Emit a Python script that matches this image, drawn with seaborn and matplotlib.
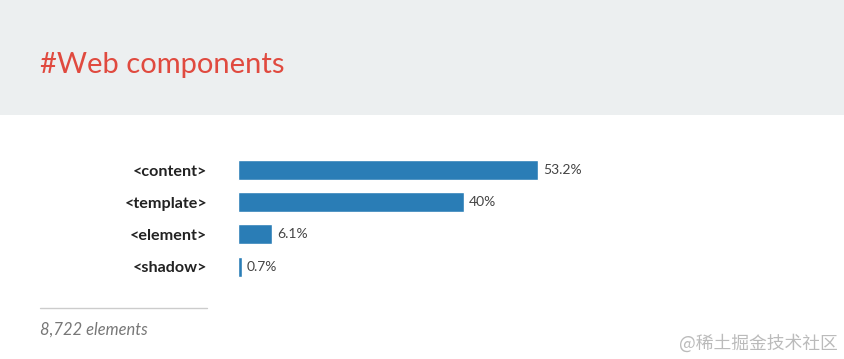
import matplotlib
matplotlib.use("Agg")
import matplotlib.pyplot as plt
import seaborn as sns
from matplotlib.patches import Rectangle
from matplotlib.lines import Line2D

# ==========================
# DATA
# ==========================

tags = ["<content>", "<template>", "<element>", "<shadow>"]
shares = [53.2, 40, 6.1, 0.7]
share_labels = ["53.2%", "40%", "6.1%", "0.7%"]
total_note = "8,722 elements"
title = "#Web components"
watermark = "@稀土掘金技术社区"

# ==========================
# FIGURE
# ==========================

sns.set_style("white")
plt.rcParams["font.family"] = ["Lato", "DejaVu Sans"]

W, H = 844, 359
fig = plt.figure(figsize=(W / 100, H / 100), dpi=100)
fig.patch.set_facecolor("white")

# header band
fig.add_artist(Rectangle((0, 1 - 115 / H), 1, 115 / H, transform=fig.transFigure,
                         facecolor="#eceff0", edgecolor="none", zorder=0))
fig.text(40 / W, 1 - 65 / H, title, color="#e04a3f", fontsize=21,
         ha="left", va="center")

# bar axes
px_per_unit = 5.64
row = 32.2
top = 170 - row / 2
left = 238
width_px = 600
ax = fig.add_axes([left / W, 1 - (top + 4 * row) / H, width_px / W, 4 * row / H])

sns.barplot(x=shares, y=tags, orient="h", color="#2a7db6", width=0.62,
            saturation=1, ax=ax)
ax.set_xlim(0, width_px / px_per_unit)
ax.set_ylim(3.5, -0.5)
ax.set_xlabel("")
ax.set_ylabel("")
ax.set_xticks([])
sns.despine(ax=ax, left=True, bottom=True)
ax.tick_params(axis="y", length=0, pad=22)
for t in ax.get_yticklabels():
    t.set_fontweight("bold")
    t.set_fontsize(11.6)
    t.set_color("#222222")

ax.bar_label(ax.containers[0], labels=share_labels, padding=3.5,
             fontsize=10, color="#444444")

# footer
fig.add_artist(Line2D([40 / W, 207 / W], [1 - 308 / H, 1 - 308 / H],
                      transform=fig.transFigure, color="#cccccc", lw=1))
fig.text(40 / W, 1 - 330 / H, total_note, color="#777777", fontsize=11.9,
         style="italic", ha="left", va="center")
fig.text(838 / W, 1 - 343 / H, watermark, color="#bbbbbb", fontsize=12.8,
         ha="right", va="center", family=["Noto Sans CJK SC", "DejaVu Sans"])

fig.savefig("out.png", dpi=100)
